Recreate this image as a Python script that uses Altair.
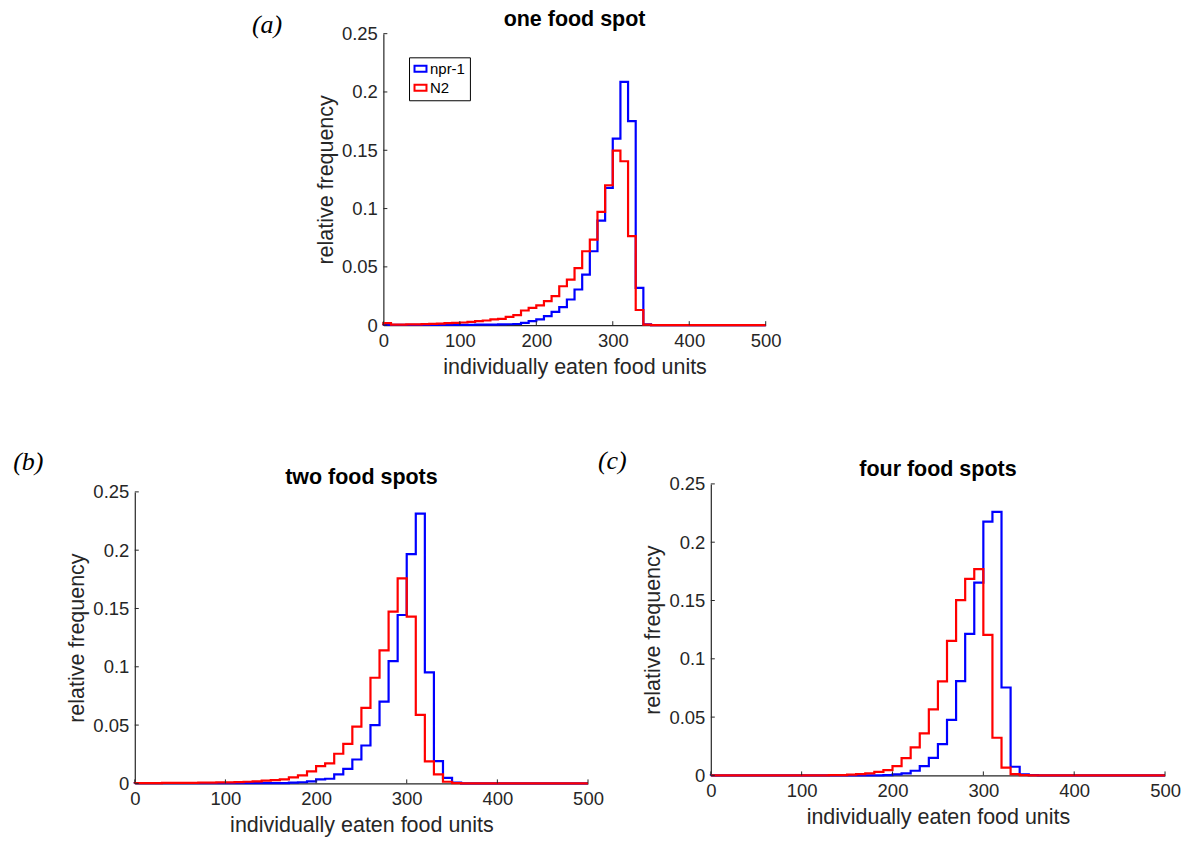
import altair as alt
import pandas as pd

# ---------------- data (relative frequency per 10-unit bin, 0..500) ----------------
BIN_EDGES = list(range(0, 510, 10))
SERIES = ["npr-1", "N2"]
COLORS = ["#0000ff", "#ff0000"]
X_TICKS = [0, 100, 200, 300, 400, 500]
Y_TICKS = [0, 0.05, 0.1, 0.15, 0.2, 0.25]
PANEL_TITLES = ["one food spot", "two food spots", "four food spots"]
PANEL_LABELS = ["(a)", "(b)", "(c)"]
X_TITLE = "individually eaten food units"
Y_TITLE = "relative frequency"

one_npr1 = [0.0002] * 10 + [0.0003, 0.0003, 0.0004, 0.0004, 0.0005, 0.0006, 0.0008,
            0.0010, 0.0020, 0.0034, 0.0049, 0.0077, 0.0114, 0.0154, 0.0220, 0.0306,
            0.0434, 0.0634, 0.0897, 0.1177, 0.1600, 0.2086, 0.1750, 0.0320, 0.0008] + [0.0] * 15
one_n2 = [0.0017, 0.0005, 0.0005, 0.0006, 0.0006, 0.0009, 0.0011, 0.0014, 0.0017, 0.0020,
          0.0023, 0.0029, 0.0034, 0.0040, 0.0049, 0.0054, 0.0071, 0.0086, 0.0126, 0.0149,
          0.0169, 0.0206, 0.0249, 0.0334, 0.0390, 0.0490, 0.0634, 0.0734, 0.0971, 0.1200,
          0.1497, 0.1406, 0.0763, 0.0130, 0.0005] + [0.0] * 15

two_npr1 = [0.0002] * 17 + [0.0006, 0.0010, 0.0017, 0.0034, 0.0040, 0.0077, 0.0125,
            0.0205, 0.0325, 0.0499, 0.0701, 0.1048, 0.1444, 0.1966, 0.2313, 0.0952,
            0.0191, 0.0048, 0.0006] + [0.0] * 14
two_n2 = [0.0003, 0.0003, 0.0003, 0.0004, 0.0004, 0.0005, 0.0005, 0.0006, 0.0007, 0.0008,
          0.0009, 0.0011, 0.0014, 0.0017, 0.0023, 0.0028, 0.0034, 0.0051, 0.0068, 0.0103,
          0.0148, 0.0171, 0.0254, 0.0339, 0.0487, 0.0647, 0.0906, 0.1140, 0.1473, 0.1758,
          0.1430, 0.0587, 0.0188, 0.0077, 0.0014, 0.0002] + [0.0] * 14

four_npr1 = [0.0001] * 19 + [0.0003, 0.0009, 0.0017, 0.0040, 0.0080, 0.0151, 0.0269,
             0.0477, 0.0809, 0.1214, 0.1654, 0.2177, 0.2260, 0.0754, 0.0074, 0.0009,
             0.0002] + [0.0] * 14
four_n2 = [0.0] * 13 + [0.0002, 0.0003, 0.0006, 0.0011, 0.0017, 0.0031, 0.0046, 0.0080,
           0.0149, 0.0240, 0.0360, 0.0566, 0.0806, 0.1154, 0.1503, 0.1686, 0.1769,
           0.1206, 0.0323, 0.0066, 0.0011, 0.0002] + [0.0] * 15

AXIS_COLOR = "#262626"
SANS = "Liberation Sans"


def stairs(values, name):
    rows = [{"x": 0, "y": 0.0, "s": name, "i": 0}]
    for k, v in enumerate(values):
        rows.append({"x": BIN_EDGES[k], "y": v, "s": name, "i": k + 1})
    rows.append({"x": BIN_EDGES[-1], "y": values[-1], "s": name, "i": len(values) + 1})
    rows.append({"x": BIN_EDGES[-1], "y": 0.0, "s": name, "i": len(values) + 2})
    return pd.DataFrame(rows)


def panel(npr, n2, title, label, cell_w, cell_h, x0, pw, y0, lab_dx, lab_dy, with_legend):
    """x0/y0: where the plot area starts inside its grid cell; pw: plot width."""
    df = pd.concat([stairs(npr, SERIES[0]), stairs(n2, SERIES[1])], ignore_index=True)
    xs = alt.Scale(domain=[0, 500], nice=False, zero=False, range=[x0, x0 + pw])
    ys = alt.Scale(domain=[0, 0.25], nice=False, range=[cell_h, y0])
    xaxis = alt.Axis(values=X_TICKS, title=X_TITLE, labelFlush=False, ticks=False, tickSize=0,
                     labelPadding=6, titlePadding=7, grid=False)
    yaxis = alt.Axis(values=Y_TICKS, title=Y_TITLE, format="~g", ticks=False, tickSize=0,
                     labelPadding=6, titlePadding=4, grid=False, offset=-x0)
    if with_legend:
        leg = alt.Legend(orient="none", legendX=x0 + 25.7, legendY=y0 + 23.7, title=None,
                         labelFont=SANS, labelFontSize=15, labelColor="black",
                         symbolType="M-1,-0.5H1V0.5H-1Z", symbolSize=144, symbolStrokeWidth=2,
                         symbolFillColor="transparent", strokeColor="black", fillColor="white",
                         padding=4, rowPadding=3, labelOffset=2)
    else:
        leg = None
    color = alt.Color("s:N", scale=alt.Scale(domain=SERIES, range=COLORS), legend=leg)
    base = alt.Chart(df)
    layers = []
    for sname in SERIES:
        layers.append(
            base.transform_filter(alt.datum.s == sname)
            .mark_line(interpolate="step-after", strokeWidth=2.2)
            .encode(x=alt.X("x:Q", scale=xs, axis=xaxis),
                    y=alt.Y("y:Q", scale=ys, axis=yaxis),
                    color=color, order="i:Q")
        )
    xt = alt.Chart(pd.DataFrame({"x": X_TICKS})).mark_rule(color=AXIS_COLOR, strokeWidth=1).encode(
        x=alt.X("x:Q", scale=xs, axis=xaxis), y=alt.value(cell_h), y2=alt.value(cell_h - 4))
    yt = alt.Chart(pd.DataFrame({"y": Y_TICKS})).mark_rule(color=AXIS_COLOR, strokeWidth=1).encode(
        y=alt.Y("y:Q", scale=ys, axis=yaxis), x=alt.value(x0), x2=alt.value(x0 + 4))
    ttl = alt.Chart(pd.DataFrame({"t": [title]})).mark_text(
        font=SANS, fontSize=21.5, fontWeight="bold", color="black",
        baseline="alphabetic", align="center").encode(
        text="t:N", x=alt.value(x0 + pw / 2), y=alt.value(y0 - 8))
    lab = alt.Chart(pd.DataFrame({"t": [label]})).mark_text(
        font="Liberation Serif", fontStyle="italic", fontSize=26, color="black",
        baseline="middle", align="center").encode(
        text="t:N", x=alt.value(x0 + lab_dx), y=alt.value(y0 + lab_dy))
    return alt.layer(*layers, xt, yt, ttl, lab).properties(width=cell_w, height=cell_h)


spacer = alt.Chart(pd.DataFrame({"v": [0]})).mark_point(opacity=0, size=1).encode(
    x=alt.X("v:Q", axis=None), y=alt.Y("v:Q", axis=None)).properties(width=10, height=10)

# grid columns start at plot (b) left; (a) is shifted 249 px to the right inside its cell
pa = panel(one_npr1, one_n2, PANEL_TITLES[0], PANEL_LABELS[0], 454, 292, 249, 383, 0, -116.5, -9, True)
pb = panel(two_npr1, two_n2, PANEL_TITLES[1], PANEL_LABELS[1], 454, 300, 0, 454, 8, -106.7, -29.5, False)
pc = panel(four_npr1, four_n2, PANEL_TITLES[2], PANEL_LABELS[2], 455, 292, 0, 455, 0, -98.7, -23, False)

chart = alt.concat(pa, spacer, pb, pc, columns=2, spacing={"row": 159, "column": 123}).properties(
    bounds="flush", padding={"left": 5, "top": 0, "right": 5, "bottom": 5}
).resolve_scale(color="independent").resolve_legend(color="independent").configure_view(
    stroke=None
).configure_axis(
    labelFont=SANS, labelFontSize=18.5, labelColor=AXIS_COLOR,
    titleFont=SANS, titleFontSize=21.5, titleFontWeight="normal", titleColor=AXIS_COLOR,
    domainColor=AXIS_COLOR, domainWidth=1.2
)

chart.save("out.html", embed_options={"renderer": "svg", "actions": False})
